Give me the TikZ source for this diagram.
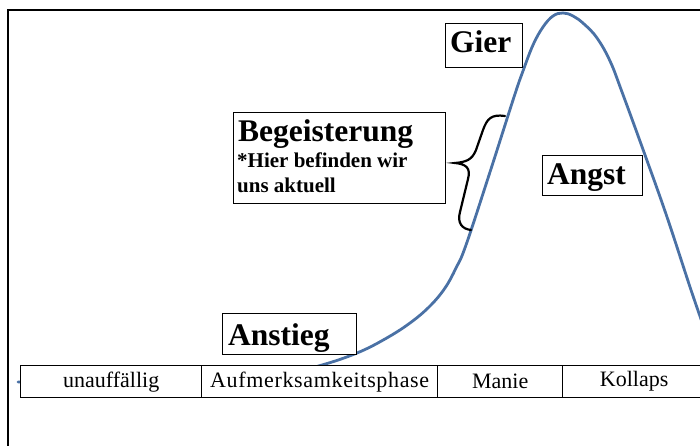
\documentclass[tikz,border=0pt]{standalone}
\usepackage{fontspec}
\setmainfont{Liberation Serif}
\definecolor{curveblue}{RGB}{74,113,165}
\begin{document}
\begin{tikzpicture}[x=1pt,y=-1pt,
  frameline/.style={line width=1.6pt},
  box/.style={draw, line width=1.4pt, fill=white, inner sep=0pt, anchor=north west},
  cell/.style={draw, line width=1.4pt, fill=white, inner sep=0pt, anchor=north west,
    minimum height=32pt, font=\fontsize{22}{26}\selectfont},
  big/.style={font=\fontsize{31.5}{34}\selectfont\bfseries, anchor=base west, inner sep=0pt},
  small/.style={font=\fontsize{21}{24}\selectfont\bfseries, anchor=base west, inner sep=0pt},
  bell/.style={draw=curveblue, line width=2.8pt, line cap=round},
  bracestyle/.style={draw=black, line width=2.2pt, line cap=round}]
\useasboundingbox (0,0) rectangle (700,446);
\clip (0,0) rectangle (700,446);
% frame
\coordinate (fTL) at (8,10);
\coordinate (fBL) at (8,450);
\coordinate (fTR) at (705,10);
\draw[frameline] (fBL) -- (fTL) -- (fTR);
% curve
\draw[bell] plot[smooth, tension=0.65] coordinates {
 (18,382) (120,381) (220,378) (290,372) (322,365) (357,353) (385,339) (410,323)
 (430,306) (445,288) (456,268) (466,245) (490,172) (514,97) (523,71) (533,45)
 (543,27) (553,16) (563,13) (573,16) (584,24) (597,38) (610,61) (622,92)
 (645,155) (667,217) (690,287) (702,322)};
% table
\node[cell, minimum width=181pt] (c1) at (20,365) {unauffällig};
\node[cell, minimum width=236pt] (c2) at (201,365) {\addfontfeature{LetterSpace=3}Aufmerksamkeitsphase};
\node[cell, minimum width=125pt] (c3) at (437,365) {Manie};
\node[cell, minimum width=143pt] (c4) at (562,365) {Kollaps};
% boxes
\node[box, minimum width=77pt, minimum height=44pt] (bGier) at (445,23) {};
\node[big] (tGier) at (450,53) {Gier};
\node[box, minimum width=212pt, minimum height=91pt] (bBeg) at (233,112) {};
\node[big] (tBeg) at (238,142) {Begeisterung};
\node[small] (tHier) at (237,168) {*Hier befinden wir};
\node[small] (tUns) at (237,193) {uns aktuell};
\node[box, minimum width=100pt, minimum height=40pt] (bAngst) at (542,155) {};
\node[big] (tAngst) at (547,185) {Angst};
\node[box, minimum width=134pt, minimum height=41pt] (bAnst) at (222,313) {};
\node[big] (tAnst) at (228,345) {Anstieg};
% brace
\coordinate (brTop) at (505,116);
\coordinate (brTip) at (455,163);
\coordinate (brBot) at (471,230);
\draw[bracestyle] (brTop) .. controls (491,114) and (487,119) .. (483,130)
  -- (476,150) .. controls (472,160) and (466,162) .. (brTip)
  .. controls (466,164) and (471,168) .. (468,179)
  -- (460,212) .. controls (457,223) and (462,229) .. (brBot);
\end{tikzpicture}
\end{document}
